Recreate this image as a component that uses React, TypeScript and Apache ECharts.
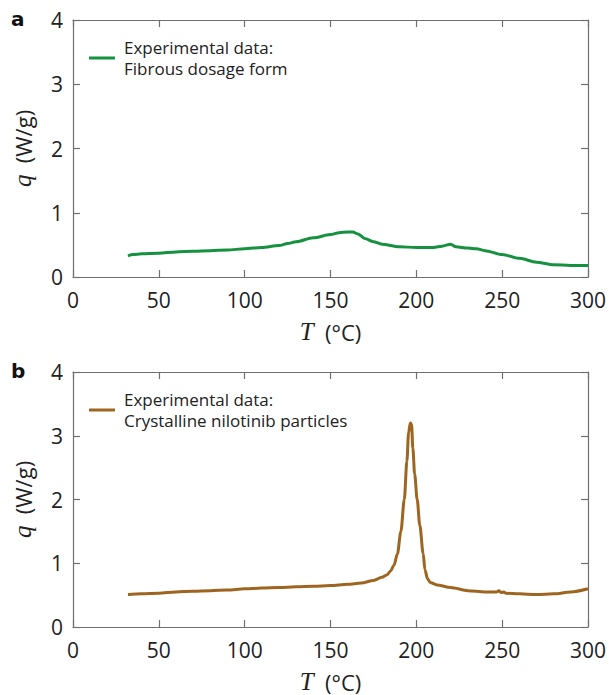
import React, { useEffect, useRef } from "react";
import * as echarts from "echarts";

// Panel a: fibrous dosage form
const T_A = [32, 35, 40, 50, 60, 70, 80, 90, 100, 110, 120, 125, 130, 140, 150, 155, 160, 163, 166, 170, 175, 180, 190, 200, 210, 215, 220, 223, 230, 235, 240, 250, 260, 270, 280, 290, 300];
const Q_A = [0.33, 0.35, 0.36, 0.37, 0.39, 0.40, 0.41, 0.42, 0.44, 0.46, 0.49, 0.52, 0.55, 0.61, 0.66, 0.69, 0.70, 0.70, 0.67, 0.60, 0.55, 0.51, 0.47, 0.46, 0.46, 0.48, 0.51, 0.47, 0.45, 0.44, 0.41, 0.35, 0.29, 0.23, 0.19, 0.18, 0.18];

// Panel b: crystalline nilotinib particles
const T_B = [32, 40, 50, 60, 70, 80, 90, 100, 110, 120, 130, 140, 150, 160, 168, 175, 180, 183, 185, 187, 189, 191, 193, 194.5, 195.5, 196.5, 197.2, 198, 199, 200.5, 202, 204, 205, 206.5, 208, 212, 220, 230, 240, 247, 248, 249.5, 251, 252, 260, 270, 280, 290, 300];
const Q_B = [0.51, 0.52, 0.53, 0.55, 0.56, 0.57, 0.58, 0.60, 0.61, 0.62, 0.63, 0.64, 0.65, 0.67, 0.69, 0.73, 0.78, 0.82, 0.88, 0.97, 1.15, 1.5, 2.0, 2.6, 3.05, 3.2, 3.18, 2.8, 2.4, 2.0, 1.6, 1.15, 0.9, 0.76, 0.70, 0.66, 0.62, 0.57, 0.55, 0.55, 0.57, 0.54, 0.55, 0.53, 0.52, 0.51, 0.52, 0.55, 0.60];

const X_TICKS = [0, 50, 100, 150, 200, 250, 300];
const Y_TICKS = [0, 1, 2, 3, 4];

const NAME_A = "Experimental data:\nFibrous dosage form";
const NAME_B = "Experimental data:\nCrystalline nilotinib particles";
const GREEN = "#15913f";
const BROWN = "#9e6520";

const FONT = "Open Sans";
const AXIS_COLOR = "#707070";
const TEXT_COLOR = "#222";

function xAxes(gridIndex: number) {
  const common = {
    type: "value",
    gridIndex,
    min: X_TICKS[0],
    max: X_TICKS[X_TICKS.length - 1],
    interval: 50,
    axisLine: { show: true, onZero: false, lineStyle: { color: AXIS_COLOR, width: 1.2 } },
    axisTick: { show: true, inside: true, length: 7, lineStyle: { color: AXIS_COLOR, width: 1.2 } },
    splitLine: { show: false },
  };
  return [
    {
      ...common,
      position: "bottom",
      axisLabel: { show: true, margin: 12, fontSize: 21, color: TEXT_COLOR, fontFamily: FONT },
      name: "{t|T}  (°C)",
      nameLocation: "middle",
      nameGap: 42,
      nameTextStyle: {
        fontSize: 22,
        color: TEXT_COLOR,
        fontFamily: FONT,
        rich: { t: { fontSize: 25, fontStyle: "italic", fontFamily: "Liberation Serif", color: TEXT_COLOR } },
      },
    },
    { ...common, position: "top", axisLabel: { show: false } },
  ];
}

function yAxes(gridIndex: number) {
  const common = {
    type: "value",
    gridIndex,
    min: Y_TICKS[0],
    max: Y_TICKS[Y_TICKS.length - 1],
    interval: 1,
    axisLine: { show: true, onZero: false, lineStyle: { color: AXIS_COLOR, width: 1.2 } },
    axisTick: { show: true, inside: true, length: 7, lineStyle: { color: AXIS_COLOR, width: 1.2 } },
    splitLine: { show: false },
  };
  return [
    {
      ...common,
      position: "left",
      axisLabel: { show: true, margin: 10, fontSize: 21, color: TEXT_COLOR, fontFamily: FONT },
      name: "{q|q}  (W/g)",
      nameLocation: "middle",
      nameGap: 38,
      nameRotate: 90,
      nameTextStyle: {
        fontSize: 22,
        color: TEXT_COLOR,
        fontFamily: FONT,
        rich: { q: { fontSize: 25, fontStyle: "italic", fontFamily: "Liberation Serif", color: TEXT_COLOR } },
      },
    },
    { ...common, position: "right", axisLabel: { show: false } },
  ];
}

function pairs(t: number[], q: number[]) {
  return t.map((x, i) => [x, q[i]]);
}

export default function App() {
  const ref = useRef<HTMLDivElement>(null);
  useEffect(() => {
    document.body.style.margin = "0";
    const chart = echarts.init(ref.current!, null, { renderer: "svg" });
    const legendCommon = {
      orient: "vertical",
      itemWidth: 26,
      itemHeight: 3,
      icon: "rect",
      itemStyle: { borderWidth: 0 },
      textStyle: { fontSize: 17, lineHeight: 21, color: TEXT_COLOR, fontFamily: FONT, padding: [0, 0, 0, 4] },
      selectedMode: false,
    };
    const option: any = {
      animation: false,
      backgroundColor: "#fff",
      title: [
        { text: "a", left: 6, top: 4, textStyle: { fontSize: 20, fontWeight: "bold", color: "#111", fontFamily: "DejaVu Sans" } },
        { text: "b", left: 6, top: 356, textStyle: { fontSize: 20, fontWeight: "bold", color: "#111", fontFamily: "DejaVu Sans" } },
      ],
      grid: [
        { left: 73, top: 20, width: 518, height: 257 },
        { left: 73, top: 372, width: 518, height: 257 },
      ],
      xAxis: [...xAxes(0), ...xAxes(1)],
      yAxis: [...yAxes(0), ...yAxes(1)],
      legend: [
        { ...legendCommon, left: 84, top: 32, data: [NAME_A] },
        { ...legendCommon, left: 84, top: 384, data: [NAME_B] },
      ],
      series: [
        {
          type: "line",
          name: NAME_A,
          xAxisIndex: 0,
          yAxisIndex: 0,
          data: pairs(T_A, Q_A),
          showSymbol: false,
          smooth: 0.3,
          smoothMonotone: "x",
          lineStyle: { color: GREEN, width: 3 },
          itemStyle: { color: GREEN },
        },
        {
          type: "line",
          name: NAME_B,
          xAxisIndex: 2,
          yAxisIndex: 2,
          data: pairs(T_B, Q_B),
          showSymbol: false,
          smooth: 0.3,
          smoothMonotone: "x",
          lineStyle: { color: BROWN, width: 3 },
          itemStyle: { color: BROWN },
        },
      ],
    };
    chart.setOption(option);
    return () => chart.dispose();
  }, []);
  return <div ref={ref} style={{ width: 609, height: 695 }} />;
}
